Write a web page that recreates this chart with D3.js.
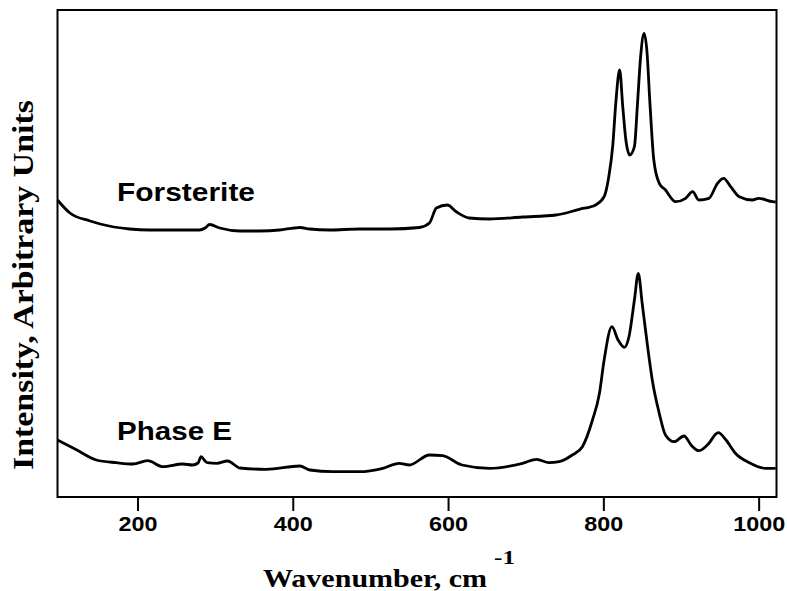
<!DOCTYPE html>
<html>
<head>
<meta charset="utf-8">
<script src="https://cdn.jsdelivr.net/npm/d3@7"></script>
<style>
  html, body { margin: 0; padding: 0; background: #fff; }
  svg { display: block; }
</style>
</head>
<body>
<svg id="chart" width="787" height="591"></svg>
<script>
// ---- data ----
const xTicks = [200, 400, 600, 800, 1000];
const seriesNames = ["Forsterite", "Phase E"];

const forsteriteWavenumber = [97, 113, 139, 152, 190, 216, 248, 280, 287, 293, 306, 332, 357, 383, 402, 409, 422, 447, 486, 525, 563, 576, 585, 599, 611, 627, 653, 696, 739, 769, 790, 801, 807, 812, 816, 821, 825, 829, 834, 840, 844, 848, 852.5, 856, 860, 865, 872, 880, 893, 906, 915, 923, 936, 947, 955, 964, 975, 992, 1000, 1018, 1022];
const forsteriteIntensity = [297, 284, 276, 273, 268, 267, 267, 267, 269, 272.5, 269, 266, 266, 267, 269, 269.5, 268, 267, 268, 268, 269.5, 274, 289, 292, 285, 279, 278, 280, 282, 287.7, 292, 300.3, 320.3, 350.3, 393.7, 427, 390.3, 357, 342, 350.3, 393.7, 440.3, 463.7, 447, 393.7, 337, 313.7, 307, 295.3, 298.7, 305.3, 297, 298.7, 313.7, 318.7, 310.3, 300.3, 297, 298.7, 295.3, 295];

const phaseEWavenumber = [97, 122, 147, 173, 194, 213, 233, 258, 271, 278, 282, 287, 290, 302, 316, 332, 366, 409, 422, 451, 486, 516, 537, 550, 576, 593, 618, 653, 696, 714, 730, 743, 760, 773, 786, 795, 801, 811, 819, 827, 833, 840, 845, 850, 857, 863, 872, 880, 891, 904, 913, 923, 934, 948, 958, 970, 988, 1009, 1020, 1022];
const phaseEIntensity = [57, 47, 37, 34.3, 33, 36.3, 30.3, 33, 32, 34, 40.3, 36, 34.3, 33.7, 36, 29, 27.7, 31, 27, 25.3, 25.3, 28.7, 33.7, 32, 42, 41.3, 32, 28.7, 33.7, 37.7, 34.3, 35.3, 42, 50.3, 77, 103.7, 137, 170.3, 157, 149.7, 160.3, 197, 223.7, 193.7, 150.3, 117, 83.7, 62, 55.3, 61, 52, 46.3, 52, 64.3, 57, 43.7, 34.3, 28.7, 28.7, 29];

const xDomain = [97, 1023];
const yDomain = [0, 487];

// ---- layout ----
const svg = d3.select("#chart");
const mLeft = 57.5, mRight = 776.5, mTop = 10, mBottom = 497;

const x = d3.scaleLinear().domain(xDomain).range([mLeft, mRight]);
const y = d3.scaleLinear().domain(yDomain).range([mBottom, mTop]);

const line = d3.line()
  .x(d => x(d[0]))
  .y(d => y(d[1]))
  .curve(d3.curveMonotoneX);

const seriesData = [
  d3.zip(forsteriteWavenumber, forsteriteIntensity),
  d3.zip(phaseEWavenumber, phaseEIntensity)
];

// curves
svg.append("g").selectAll("path")
  .data(seriesData)
  .join("path")
  .attr("d", line)
  .attr("fill", "none")
  .attr("stroke", "#000")
  .attr("stroke-width", 2.8)
  .attr("stroke-linejoin", "round");

// frame
svg.append("rect")
  .attr("x", mLeft).attr("y", mTop)
  .attr("width", mRight - mLeft).attr("height", mBottom - mTop)
  .attr("fill", "none").attr("stroke", "#000").attr("stroke-width", 2);

// bottom axis
const xAxis = d3.axisBottom(x).tickValues(xTicks).tickSize(14).tickPadding(5).tickFormat(d3.format("d"));
const gx = svg.append("g").attr("transform", `translate(0,${mBottom})`).call(xAxis);
gx.select(".domain").remove();
gx.selectAll(".tick line").attr("stroke", "#000").attr("stroke-width", 2);
gx.selectAll(".tick text")
  .attr("fill", "#000")
  .attr("font-family", "'Liberation Sans', Arial, sans-serif")
  .attr("font-weight", "bold")
  .attr("font-size", 21)
  .attr("dy", "0.71em")
  .each(function(d) {
    const s = String(d);
    d3.select(this).attr("textLength", s.length * 13).attr("lengthAdjust", "spacingAndGlyphs");
  });

// series labels
const labelPos = [
  { name: seriesNames[0], len: 138, base: 201 },
  { name: seriesNames[1], len: 115, base: 440 }
];
svg.append("g").selectAll("text")
  .data(labelPos)
  .join("text")
  .attr("x", 117)
  .attr("y", d => d.base)
  .attr("font-family", "'Liberation Sans', Arial, sans-serif")
  .attr("font-weight", "bold")
  .attr("font-size", 25)
  .attr("textLength", d => d.len)
  .attr("lengthAdjust", "spacingAndGlyphs")
  .text(d => d.name);

// x title
svg.append("text")
  .attr("x", 263).attr("y", 587)
  .attr("font-family", "'Liberation Serif', 'Times New Roman', serif")
  .attr("font-weight", "bold")
  .attr("font-size", 25)
  .attr("fill", "#000")
  .attr("textLength", 224).attr("lengthAdjust", "spacingAndGlyphs")
  .text("Wavenumber, cm");
svg.append("text")
  .attr("x", 494).attr("y", 564)
  .attr("font-family", "'Liberation Serif', 'Times New Roman', serif")
  .attr("font-weight", "bold")
  .attr("font-size", 18)
  .attr("textLength", 21).attr("lengthAdjust", "spacingAndGlyphs")
  .text("-1");

// y title
svg.append("text")
  .attr("transform", "translate(33,285) rotate(-90)")
  .attr("text-anchor", "middle")
  .attr("font-family", "'Liberation Serif', 'Times New Roman', serif")
  .attr("font-weight", "bold")
  .attr("font-size", 29)
  .attr("textLength", 370).attr("lengthAdjust", "spacingAndGlyphs")
  .text("Intensity, Arbitrary Units");
</script>
</body>
</html>
